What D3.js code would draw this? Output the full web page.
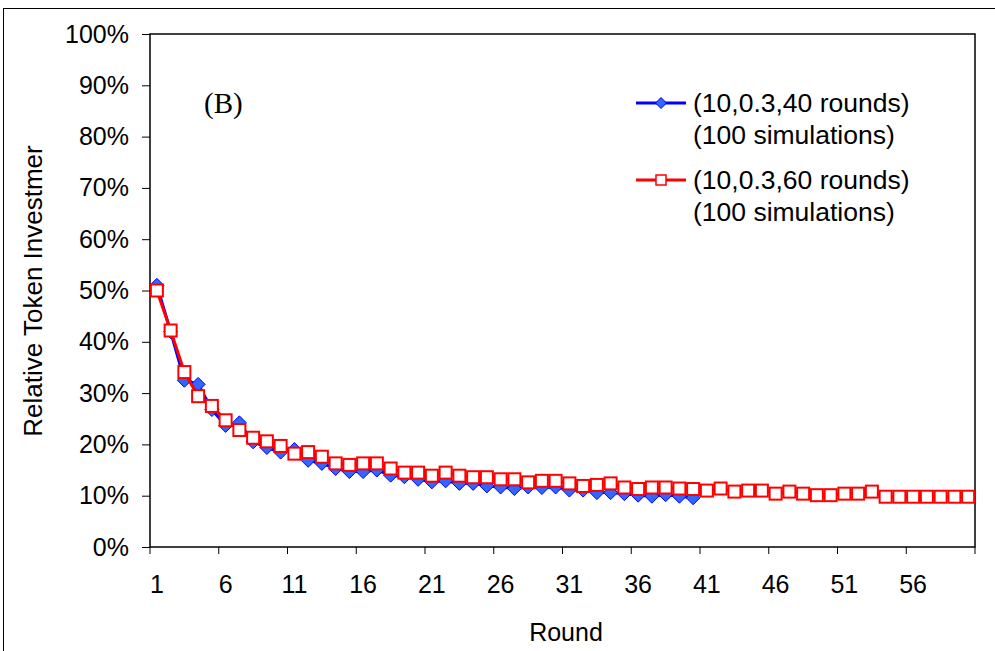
<!DOCTYPE html>
<html><head><meta charset="utf-8">
<script src="https://cdn.jsdelivr.net/npm/d3@7"></script>
<style>html,body{margin:0;padding:0;background:#fff;}svg{display:block;}</style>
</head><body>
<script>
const rounds = d3.range(1, 61);
const series40 = [0.51,0.42,0.325,0.317,0.268,0.237,0.242,0.205,0.194,0.185,
  0.19,0.169,0.163,0.153,0.147,0.147,0.150,0.140,0.137,0.132,
  0.127,0.129,0.124,0.124,0.119,0.117,0.114,0.117,0.116,0.117,
  0.111,0.111,0.106,0.106,0.104,0.101,0.099,0.102,0.099,0.096];
const series60 = [0.500,0.422,0.341,0.294,0.275,0.247,0.228,0.213,0.206,0.197,
  0.182,0.185,0.176,0.163,0.160,0.163,0.163,0.153,0.145,0.145,
  0.139,0.145,0.139,0.136,0.136,0.132,0.132,0.126,0.129,0.129,
  0.124,0.119,0.121,0.124,0.116,0.113,0.116,0.116,0.114,0.113,
  0.110,0.114,0.108,0.110,0.110,0.104,0.108,0.104,0.101,0.101,
  0.104,0.104,0.108,0.098,0.098,0.098,0.098,0.098,0.098,0.098];
const yTicks = d3.range(0, 1.0001, 0.1);
const xTickLabels = [1,6,11,16,21,26,31,36,41,46,51,56];
const legendLabels = [["(10,0.3,40 rounds)","(100 simulations)"],["(10,0.3,60 rounds)","(100 simulations)"]];

const W = 995, H = 651;
const L = 150, R = 975, T = 34, B = 547;
const svg = d3.select("body").append("svg").attr("width", W).attr("height", H);
const font = "'Liberation Sans', Arial, sans-serif";

svg.append("rect").attr("x",3.5).attr("y",8.5).attr("width",1000).attr("height",700)
  .attr("fill","none").attr("stroke","#000").attr("stroke-width",1);

const x = d3.scaleBand().domain(rounds).range([L, R]).padding(0);
const y = d3.scaleLinear().domain([0, 1]).range([B, T]);
const cx = d => x(d) + x.bandwidth() / 2;

// plot border
svg.append("rect").attr("x",L).attr("y",T).attr("width",R-L).attr("height",B-T)
  .attr("fill","none").attr("stroke","#000").attr("stroke-width",1.5);

// y axis
const yAxis = d3.axisLeft(y).tickValues(yTicks).tickSize(8).tickPadding(13)
  .tickFormat(d3.format(".0%"));
const gy = svg.append("g").attr("transform",`translate(${L},0)`).call(yAxis);
gy.select(".domain").remove();
gy.selectAll("line").attr("stroke","#000").attr("stroke-width",1);
gy.selectAll("text").attr("font-family",font).attr("font-size",25).attr("fill","#000");

// x axis ticks at category boundaries
const boundaries = d3.range(0, 61, 5);
svg.append("g").selectAll("line").data(boundaries).join("line")
  .attr("x1", d => d < 60 ? x(d+1) : R).attr("x2", d => d < 60 ? x(d+1) : R)
  .attr("y1", B).attr("y2", B + 7).attr("stroke","#000").attr("stroke-width",1);
svg.append("g").selectAll("text").data(xTickLabels).join("text")
  .attr("x", d => cx(d)).attr("y", B + 46).attr("text-anchor","middle")
  .attr("font-family",font).attr("font-size",25).attr("fill","#000").text(d => d);

// axis titles
svg.append("text").attr("x",566).attr("y",641).attr("text-anchor","middle")
  .attr("font-family",font).attr("font-size",25).text("Round");
svg.append("text").attr("transform","translate(42,291) rotate(-90)").attr("text-anchor","middle")
  .attr("font-family",font).attr("font-size",26).text("Relative Token Investmer");

svg.append("text").attr("x",204).attr("y",113).attr("font-family","'Liberation Serif','Times New Roman',serif")
  .attr("font-size",29).text("(B)");

// series
const line = d3.line().x((d,i) => cx(rounds[i])).y(d => y(d));
const diamond = (s) => `M0,${-s}L${s},0L0,${s}L${-s},0Z`;

svg.append("path").datum(series40).attr("d", line).attr("fill","none")
  .attr("stroke","#0000ff").attr("stroke-width",3);
svg.append("g").selectAll("path").data(series40).join("path")
  .attr("transform",(d,i)=>`translate(${cx(rounds[i])},${y(d)})`)
  .attr("d", diamond(7)).attr("fill","#3366ff").attr("stroke","#0000ff").attr("stroke-width",1);

svg.append("path").datum(series60).attr("d", line).attr("fill","none")
  .attr("stroke","#ff0000").attr("stroke-width",3);
svg.append("g").selectAll("rect").data(series60).join("rect")
  .attr("x",(d,i)=>cx(rounds[i])-6).attr("y",d=>y(d)-6).attr("width",12).attr("height",12)
  .attr("fill","#fff").attr("stroke","#ff0000").attr("stroke-width",2);

// legend
const lg = svg.append("g");
const ly = [103, 180];
lg.append("line").attr("x1",636).attr("x2",686).attr("y1",ly[0]).attr("y2",ly[0]).attr("stroke","#0000ff").attr("stroke-width",3);
lg.append("path").attr("transform",`translate(661,${ly[0]})`).attr("d",diamond(5.5)).attr("fill","#3366ff").attr("stroke","#0000ff");
lg.append("line").attr("x1",636).attr("x2",686).attr("y1",ly[1]).attr("y2",ly[1]).attr("stroke","#ff0000").attr("stroke-width",3);
lg.append("rect").attr("x",656).attr("y",ly[1]-5).attr("width",10).attr("height",10).attr("fill","#fff").attr("stroke","#ff0000").attr("stroke-width",1.5);
legendLabels.forEach((lab,i) => {
  lab.forEach((t,j) => {
    lg.append("text").attr("x",693).attr("y",ly[i] + 9 + j*32).attr("font-family",font)
      .attr("font-size",26.5).text(t);
  });
});
</script>
</body></html>
